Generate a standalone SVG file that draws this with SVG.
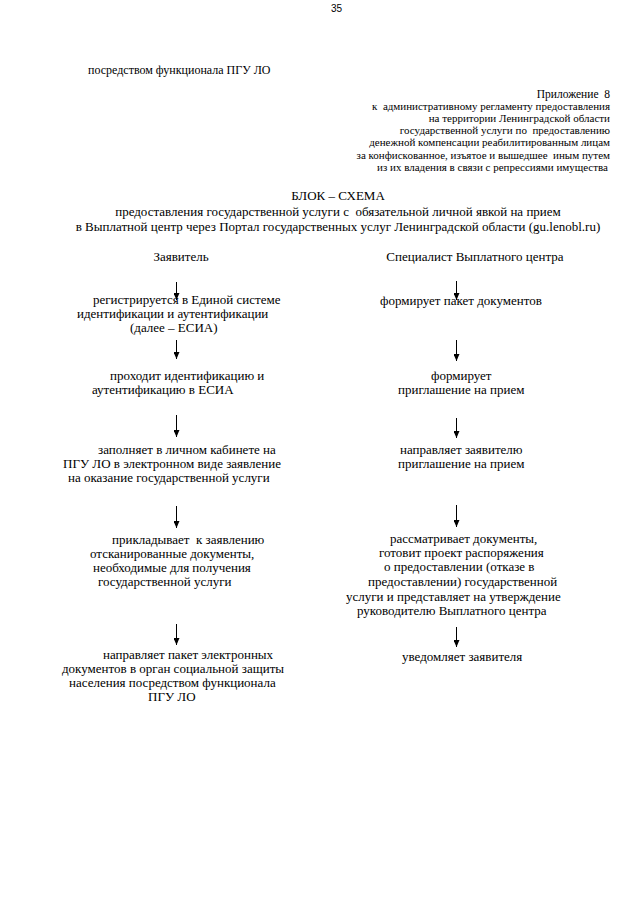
<svg xmlns="http://www.w3.org/2000/svg" width="640" height="905" viewBox="0 0 640 905">
<style>
text{font-family:"Liberation Serif","Times New Roman",serif;font-size:13px;fill:#000;white-space:pre}
.app{font-size:11px;text-anchor:end}
.mid{text-anchor:middle}
.pg{font-family:"Liberation Sans",Arial,sans-serif;font-size:10px}
.con line{stroke:#000;stroke-width:1;marker-end:url(#ah)}
</style>
<defs>
<marker id="ah" markerUnits="userSpaceOnUse" markerWidth="7" markerHeight="6" refX="7" refY="3" orient="auto" viewBox="0 0 7 6">
<path d="M0,0 L7,3 L0,6 z" fill="#000"/>
</marker>
</defs>
<rect width="640" height="905" fill="#fff"/>
<g id="page-number"><text class="pg" x="331" y="12">35</text></g>
<g id="carry-over"><text x="88" y="74" style="font-size:12px">посредством функционала ПГУ ЛО</text></g>
<g id="appendix">
<text class="app" x="610" y="98" style="font-size:11.5px">Приложение  8</text>
<text class="app" x="610" y="110">к  административному регламенту предоставления</text>
<text class="app" x="610" y="122">на территории Ленинградской области</text>
<text class="app" x="610" y="134">государственной услуги по  предоставлению</text>
<text class="app" x="610" y="146">денежной компенсации реабилитированным лицам</text>
<text class="app" x="610" y="159">за конфискованное, изъятое и вышедшее  иным путем</text>
<text class="app" x="608" y="171">из их владения в связи с репрессиями имущества</text>
</g>
<g id="title">
<text class="mid" x="338" y="200">БЛОК – СХЕМА</text>
<text class="mid" x="338" y="216">предоставления государственной услуги с  обязательной личной явкой на прием</text>
<text class="mid" x="338" y="231">в Выплатной центр через Портал государственных услуг Ленинградской области (gu.lenobl.ru)</text>
</g>
<g id="header-applicant"><text class="mid" x="181" y="261">Заявитель</text></g>
<g id="header-specialist"><text class="mid" x="475" y="261">Специалист Выплатного центра</text></g>
<g id="a1">
<text x="93" y="304">регистрируется в Единой системе</text>
<text x="77" y="318">идентификации и аутентификации</text>
<text x="130" y="332">(далее – ЕСИА)</text>
</g>
<g id="a2">
<text x="110" y="380">проходит идентификацию и</text>
<text x="92" y="394">аутентификацию в ЕСИА</text>
</g>
<g id="a3">
<text x="98" y="454">заполняет в личном кабинете на</text>
<text x="63" y="468">ПГУ ЛО в электронном виде заявление</text>
<text x="68" y="482">на оказание государственной услуги</text>
</g>
<g id="a4">
<text x="112" y="544">прикладывает  к заявлению</text>
<text x="90" y="558">отсканированные документы,</text>
<text x="93" y="572">необходимые для получения</text>
<text x="98" y="586">государственной услуги</text>
</g>
<g id="a5">
<text x="103" y="659">направляет пакет электронных</text>
<text x="62" y="673">документов в орган социальной защиты</text>
<text x="69" y="687">населения посредством функционала</text>
<text x="148" y="701">ПГУ ЛО</text>
</g>
<g id="s1"><text x="380" y="305">формирует пакет документов</text></g>
<g id="s2">
<text x="431" y="380">формирует</text>
<text x="398" y="394">приглашение на прием</text>
</g>
<g id="s3">
<text x="400" y="454">направляет заявителю</text>
<text x="398" y="468">приглашение на прием</text>
</g>
<g id="s4">
<text x="390" y="543">рассматривает документы,</text>
<text x="379" y="557">готовит проект распоряжения</text>
<text x="384" y="571">о предоставлении (отказе в</text>
<text x="368" y="586">предоставлении) государственной</text>
<text x="346" y="601">услуги и представляет на утверждение</text>
<text x="357" y="615">руководителю Выплатного центра</text>
</g>
<g id="s5"><text x="402" y="661">уведомляет заявителя</text></g>
<g id="connectors" class="con">
<line x1="176.5" y1="282" x2="176.5" y2="300"/>
<line x1="176.5" y1="340" x2="176.5" y2="359"/>
<line x1="176.5" y1="415" x2="176.5" y2="437"/>
<line x1="176.5" y1="506" x2="176.5" y2="528"/>
<line x1="176.5" y1="624" x2="176.5" y2="645"/>
<line x1="456.5" y1="281" x2="456.5" y2="300"/>
<line x1="456.5" y1="340" x2="456.5" y2="361"/>
<line x1="456.5" y1="418" x2="456.5" y2="438"/>
<line x1="456.5" y1="505" x2="456.5" y2="527"/>
<line x1="456.5" y1="627" x2="456.5" y2="647"/>
</g>
</svg>
